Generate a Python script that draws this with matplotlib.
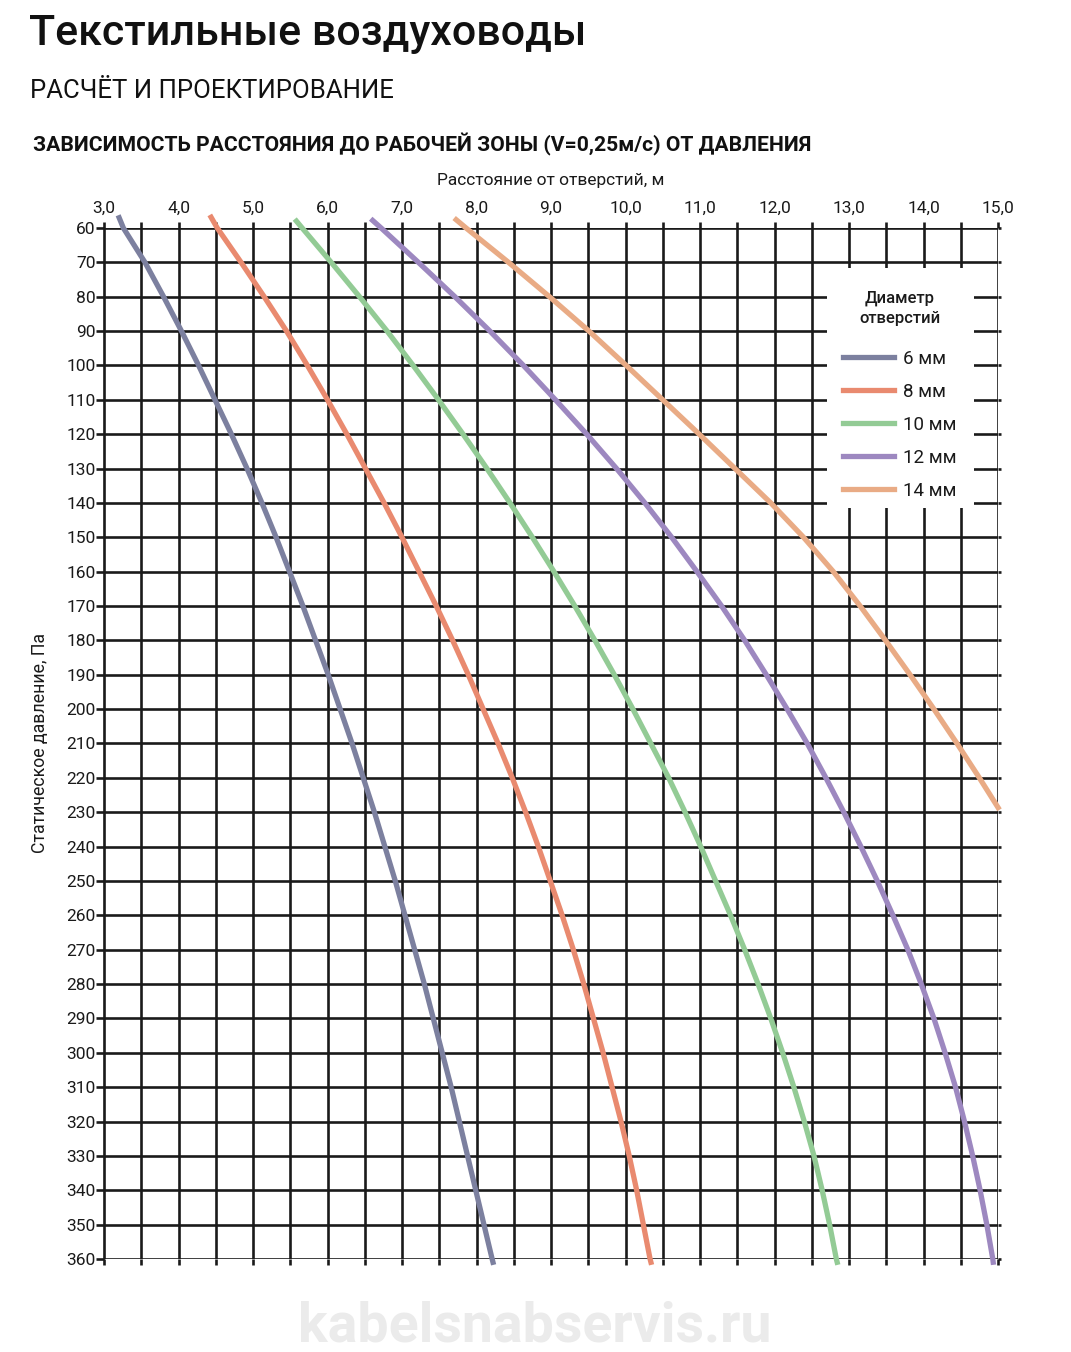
import matplotlib
matplotlib.use('Agg')
import matplotlib.pyplot as plt
from matplotlib.ticker import FixedLocator, FuncFormatter
from matplotlib.patches import Rectangle
from matplotlib.lines import Line2D

# ---------------- data ----------------
x_ticks = [3.0, 3.5, 4.0, 4.5, 5.0, 5.5, 6.0, 6.5, 7.0, 7.5, 8.0, 8.5, 9.0, 9.5,
           10.0, 10.5, 11.0, 11.5, 12.0, 12.5, 13.0, 13.5, 14.0, 14.5, 15.0]
y_ticks = list(range(60, 361, 10))

labels = ["6 мм", "8 мм", "10 мм", "12 мм", "14 мм"]
colors = ["#7c809f", "#e98a6f", "#93cb95", "#9d88c0", "#e9ab85"]

p6 = [56.3] + list(range(60, 361, 10)) + [361.7]
d6 = [3.19, 3.26, 3.55, 3.80, 4.04, 4.27, 4.49, 4.71, 4.92, 5.12, 5.31,
      5.49, 5.67, 5.84, 6.01, 6.17, 6.33, 6.48, 6.63, 6.77, 6.91,
      7.04, 7.17, 7.30, 7.42, 7.54, 7.66, 7.77, 7.88, 7.99, 8.10, 8.21, 8.23]

p8 = [56.2] + list(range(60, 361, 10)) + [361.7]
d8 = [4.42, 4.52, 4.84, 5.15, 5.45, 5.73, 6.00, 6.26, 6.51, 6.76, 7.00,
      7.23, 7.46, 7.68, 7.89, 8.09, 8.29, 8.48, 8.66, 8.83, 8.99,
      9.15, 9.30, 9.44, 9.57, 9.70, 9.82, 9.94, 10.05, 10.15, 10.24, 10.33, 10.35]

p10 = [57.4] + list(range(60, 361, 10)) + [361.7]
d10 = [5.56, 5.66, 6.05, 6.43, 6.80, 7.15, 7.49, 7.82, 8.14, 8.45, 8.75,
       9.04, 9.32, 9.59, 9.85, 10.10, 10.34, 10.58, 10.80, 11.01, 11.21,
       11.41, 11.60, 11.78, 11.95, 12.11, 12.26, 12.40, 12.53, 12.64, 12.74, 12.83, 12.85]

p12 = [57.3] + list(range(60, 361, 10)) + [361.7]
d12 = [6.58, 6.72, 7.22, 7.71, 8.18, 8.63, 9.06, 9.48, 9.88, 10.26, 10.62,
       10.96, 11.29, 11.60, 11.89, 12.17, 12.44, 12.69, 12.93, 13.16, 13.38,
       13.59, 13.79, 13.97, 14.14, 14.29, 14.43, 14.55, 14.66, 14.76, 14.85, 14.93, 14.94]

p14 = [57.1] + list(range(60, 221, 10)) + [229.3]
d14 = [7.70, 7.86, 8.43, 8.98, 9.51, 10.01, 10.50, 10.99, 11.47, 11.95, 12.39,
       12.79, 13.15, 13.49, 13.82, 14.14, 14.45, 14.75, 15.02]

series_p = [p6, p8, p10, p12, p14]
series_d = [d6, d8, d10, d12, d14]

highlight_x = 12.0

# ---------------- figure ----------------
W, H = 1071, 1352
fig = plt.figure(figsize=(W / 100, H / 100), dpi=100)
fig.patch.set_facecolor('white')

FONT = ['Roboto', 'DejaVu Sans']
plt.rcParams['font.family'] = FONT

ax = fig.add_axes([104 / W, 1 - 1259 / H, 894 / W, 1031 / H])
ax.set_xlim(3, 15)
ax.set_ylim(360, 60)

grid_lw = 1.9
ink = '#1a1a1a'
ax.xaxis.set_major_locator(FixedLocator(x_ticks))
ax.yaxis.set_major_locator(FixedLocator(y_ticks))
ax.xaxis.set_major_formatter(FuncFormatter(
    lambda v, pos: (f"{v:.1f}".replace('.', ',') if abs(v - round(v)) < 1e-6 else "")))
ax.yaxis.set_major_formatter(FuncFormatter(lambda v, pos: f"{int(v)}"))

ax.tick_params(axis='x', which='major', top=True, bottom=True, labeltop=True,
               labelbottom=False, direction='out', length=4.5, width=grid_lw,
               color=ink, labelsize=12.5, pad=4, labelcolor=ink)
ax.tick_params(axis='y', which='major', left=True, right=True, labelleft=True,
               direction='out', length=5.5, width=grid_lw, color=ink,
               labelsize=12.5, pad=0.5, labelcolor=ink)
for t in ax.yaxis.get_major_ticks():
    t.tick2line.set_markersize(2.5)

ax.grid(True, which='major', color=ink, linewidth=grid_lw)
ax.set_axisbelow(True)
for t in ax.xaxis.get_major_ticks():
    loc = t.get_loc()
    if abs(loc - 3.0) < 1e-6:
        t.gridline.set_linewidth(1.2)
        t.tick1line.set_visible(False)
        t.tick2line.set_visible(False)
    if abs(loc - highlight_x) < 1e-6:
        t.gridline.set_linewidth(3.2)
        t.tick1line.set_markeredgewidth(3.2)
        t.tick2line.set_markeredgewidth(3.2)

for side in ['top', 'bottom', 'right']:
    ax.spines[side].set_visible(False)
ax.spines['left'].set_linewidth(1.2)
ax.spines['left'].set_color(ink)

# legend background box (interrupts grid)
ax.add_patch(Rectangle((0.809, 0.728), 0.164, 0.233, transform=ax.transAxes,
                       facecolor='white', edgecolor='none', zorder=1.5))

# curves
for p, d, c in zip(series_p, series_d, colors):
    ax.plot(d, p, color=c, linewidth=3.8, solid_capstyle='butt',
            solid_joinstyle='round', clip_on=False, zorder=3)

handles = [Line2D([0], [0], color=c, linewidth=3.8) for c in colors]
leg = ax.legend(handles, labels, title="Диаметр\nотверстий", loc='upper center',
                bbox_to_anchor=(0.890, 0.948), frameon=False, fontsize=13.5,
                title_fontsize=12, handlelength=2.75, handletextpad=0.45,
                labelspacing=0.8, borderpad=0)
leg.get_title().set_multialignment('center')
leg.get_title().set_fontweight('medium')
leg.get_title().set_linespacing(1.4)
leg._legend_box.sep = 17
for txt in leg.get_texts():
    txt.set_color(ink)
leg.get_title().set_color(ink)
leg.set_zorder(4)

# axis labels
fig.text(551 / W, 1 - 180 / H, "Расстояние от отверстий, м", ha='center', va='center',
         fontsize=12.5, color=ink)
fig.text(40 / W, 1 - 743 / H, "Статическое давление, Па", ha='center', va='center',
         rotation=90, fontsize=12.8, color=ink)

# titles
fig.text(29 / W, 1 - 33 / H, "Текстильные воздуховоды", ha='left', va='center',
         fontsize=31, fontweight='medium', color='#111111')
fig.text(30 / W, 1 - 91 / H, "РАСЧЁТ И ПРОЕКТИРОВАНИЕ", ha='left', va='center',
         fontsize=18.5, color='#111111')
fig.text(33 / W, 1 - 144 / H, "ЗАВИСИМОСТЬ РАССТОЯНИЯ ДО РАБОЧЕЙ ЗОНЫ (V=0,25м/с) ОТ ДАВЛЕНИЯ",
         ha='left', va='center', fontsize=15.2, fontweight='bold', color='#111111')

# watermark
fig.text(535 / W, 1 - 1326 / H, "kabelsnabservis.ru", ha='center', va='center',
         fontsize=40, fontweight='bold', color='#ebebeb')

fig.savefig('out.png', dpi=100, facecolor='white')
